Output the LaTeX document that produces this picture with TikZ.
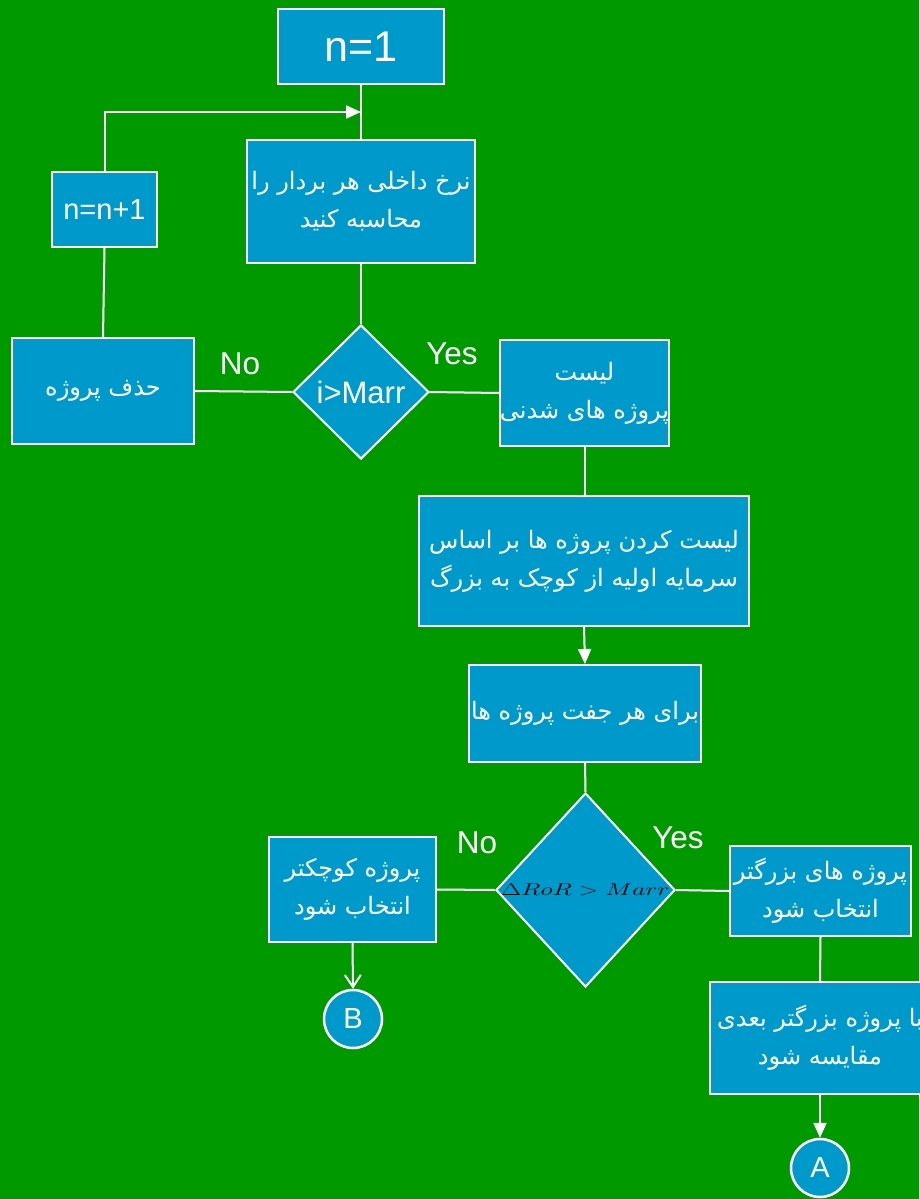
\documentclass[tikz,border=0pt]{standalone}
\usepackage{graphicx}
\usepackage{fontspec}
\setmainfont{Liberation Sans}
\newfontfamily\fa[Script=Arabic]{DejaVu Sans}
\TeXXeTstate=1
\usetikzlibrary{shapes.geometric,arrows.meta,calc}
\definecolor{bggreen}{RGB}{0,153,0}
\definecolor{boxblue}{RGB}{0,153,204}
\tikzset{
  box/.style={draw=white,line width=2pt,fill=boxblue,text=white,inner sep=0pt,align=center},
  dia/.style={draw=white,line width=2pt,fill=boxblue,shape=diamond,inner sep=0pt},
  conn/.style={draw=white,line width=2pt},
  lbl/.style={text=white,font=\fontsize{31.5}{32}\selectfont,inner sep=0pt},
  circ/.style={draw=white,line width=2.5pt,fill=boxblue,circle,inner sep=0pt,minimum size=58pt,text=white,font=\fontsize{29}{30}\selectfont},
  fatext/.style={font=\fa\fontsize{24}{38}\selectfont},
  farrow/.style={-{Triangle[length=15pt,width=13pt]}},
}
\begin{document}
\begin{tikzpicture}[x=1pt,y=-1pt]
\useasboundingbox (0,0) rectangle (919,1199);
\fill[bggreen] (0,0) rectangle (919,1199);

\node[box,minimum width=166pt,minimum height=75pt,font=\fontsize{43}{45}\selectfont] (n1) at (361,46.5) {n=1};
\node[box,minimum width=105pt,minimum height=75pt,font=\fontsize{29}{30}\selectfont] (inc) at (104.5,209.5) {n=n+1};
\node[box,fatext,minimum width=228pt,minimum height=123pt] (calcbox) at (361,201.5)
  {\beginR نرخ داخلی هر بردار را\endR\\\beginR محاسبه کنید\endR};
\node[dia,minimum width=136pt,minimum height=134pt,text=white,font=\fontsize{31}{32}\selectfont] (d1) at (361,392) {i>Marr};
\node[box,fatext,minimum width=182pt,minimum height=106pt] (del) at (103,391) {\beginR حذف پروژه\endR};
\node[box,fatext,minimum width=167pt,minimum height=106pt] (feas) at (584.5,393)
  {\beginR لیست\endR\\\beginR پروژه های شدنی\endR};
\node[box,fatext,minimum width=330pt,minimum height=130pt] (sort) at (584,561)
  {\beginR لیست کردن پروژه ها بر اساس\endR\\\beginR سرمایه اولیه از کوچک به بزرگ\endR};
\node[box,fatext,minimum width=232pt,minimum height=97pt] (pair) at (585,713.5)
  {\beginR برای هر جفت پروژه ها\endR};
\node[dia,minimum width=179pt,minimum height=194pt] (d2) at (585.5,890) {};
\node[text=black,inner sep=0pt,font=\fontsize{17.5}{18}\selectfont] (d2text) at (d2.center) {\scalebox{1.48}[1]{$\Delta RoR > Marr$}};
\node[box,fatext,minimum width=167pt,minimum height=105pt] (small) at (352.5,889.5)
  {\beginR پروژه کوچکتر\endR\\\beginR انتخاب شود\endR};
\node[box,fatext,minimum width=181pt,minimum height=90pt] (big) at (820.5,891)
  {\beginR پروژه های بزرگتر\endR\\\beginR انتخاب شود\endR};
\node[box,fatext,minimum width=220pt,minimum height=112pt] (next) at (820,1038)
  {\beginR با پروژه بزرگتر بعدی\endR\\\beginR مقایسه شود\endR};
\node[circ] (B) at (353,1019) {B};
\node[circ] (A) at (820,1168) {A};

\node[lbl] (no1) at (240,364) {No};
\node[lbl] (yes1) at (452,354) {Yes};
\node[lbl] (no2) at (477,843) {No};
\node[lbl] (yes2) at (678,838) {Yes};

\coordinate (loopend) at ($(n1.south)!0.5!(calcbox.north)$);
\draw[conn] (n1.south) -- (calcbox.north);
\draw[conn,farrow] (inc.north) |- (loopend);
\draw[conn] (calcbox.south) -- (d1.north);
\draw[conn] (d1.west) -- (del.east);
\draw[conn] (del.north) -- (inc.south);
\draw[conn] (d1.east) -- (feas.west);
\draw[conn] (feas.south) -- (feas.south |- sort.north);
\draw[conn,farrow] (sort.south) -- (pair.north);
\draw[conn] (pair.south) -- (d2.north);
\draw[conn] (d2.west) -- (small.east);
\draw[conn,-{Straight Barb[length=12pt,width=16pt,line width=2pt]}] (small.south) -- (B.north);
\draw[conn] (d2.east) -- (big.west);
\draw[conn] (big.south) -- (next.north);
\draw[conn,farrow] (next.south) -- (A.north);
\end{tikzpicture}
\end{document}
